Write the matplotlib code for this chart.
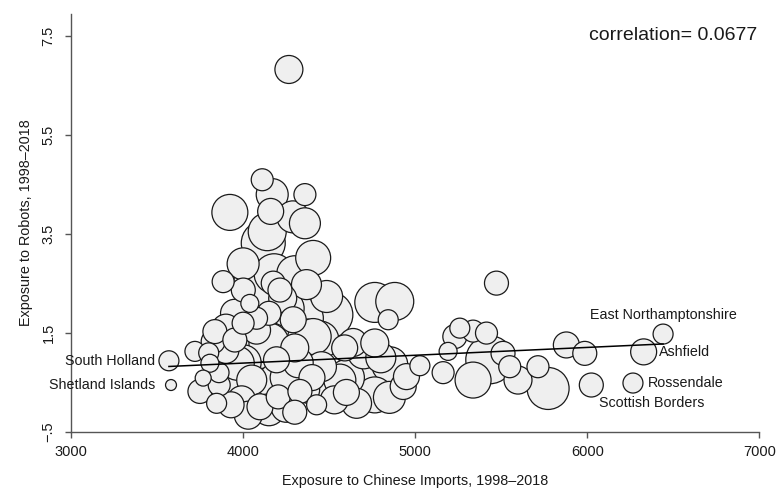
#----------------------------------------------------------------------------------------------------------------------
# Imports

import numpy as np
import matplotlib
matplotlib.use("Agg")
import matplotlib.pyplot as plt

plt.rcParams['font.family'] = ['Liberation Sans', 'DejaVu Sans']

#----------------------------------------------------------------------------------------------------------------------
# Data

# exposure to Chinese imports
imports = [4266, 4111, 4169, 4359, 3923, 4289, 4160, 4359, 4140, 4117,
           4407, 4109, 3884, 4001, 4175, 4368, 4485, 4214, 4039, 4078,
           4291, 4407, 4765, 4881, 4843, 4504, 4446, 4369, 4639, 4765,
           4678, 4852, 4455, 4562, 5027, 4930, 4765, 4659, 4949, 4369,
           4427, 5472, 5230, 5336, 5414, 5259, 5191, 5433, 5510, 5549,
           5162, 5336, 5597, 5713, 5772, 5878, 5985, 6440, 6327, 6265,
           6023, 3569, 3581, 3720, 3826, 3836, 3952, 4107, 4078, 3966,
           4194, 3768, 3861, 3749, 3991, 4098, 4030, 4204, 4330, 3807,
           3846, 4150, 4250, 4300, 3930, 4530, 4600, 4850, 4050, 4250,
           4320, 3900, 4000, 4150, 4230, 4300, 4590, 4700, 4800, 3800,
           3860, 4000, 4180, 4300, 4000, 4400, 4200, 4450, 3950, 4600,
           4150, 4350, 4250, 3950, 3900]

# exposure to robots
robots = [6.83, 4.60, 4.30, 4.30, 3.94, 3.85, 3.96, 3.72, 3.55, 3.32,
          3.02, 2.53, 2.54, 2.37, 2.51, 2.48, 2.24, 2.37, 2.10, 1.80,
          1.77, 1.43, 2.12, 2.14, 1.77, 1.87, 1.36, 1.40, 1.31, 1.30,
          0.79, 0.86, 0.82, 0.55, 0.84, 0.42, 0.25, 0.08, 0.62, 0.35,
          0.05, 2.51, 1.43, 1.54, 1.50, 1.60, 1.13, 0.96, 1.09, 0.82,
          0.70, 0.55, 0.55, 0.82, 0.38, 1.26, 1.09, 1.48, 1.12, 0.49,
          0.45, 0.94, 0.45, 1.13, 1.33, 1.53, 1.36, 1.23, 1.56, 0.89,
          0.96, 0.59, 0.45, 0.32, 0.15, 0.01, -0.16, 0.21, 0.32, 0.89,
          0.08, -0.05, 0.00, -0.10, 0.05, 0.15, 0.30, 0.20, 0.55, 0.60,
          0.90, 1.15, 1.70, 1.90, 2.20, 1.20, 1.20, 1.10, 1.00, 1.10,
          0.70, 0.90, 2.70, 2.70, 2.90, 0.60, 0.50, 0.30, 0.40, 0.60,
          1.30, 1.80, 2.00, 1.90, 1.60]

# bubble weights (area)
weight = [196, 121, 256, 121, 324, 256, 169, 240, 361, 484,
          306, 784, 121, 144, 144, 225, 256, 144, 81, 121,
          169, 324, 400, 361, 100, 529, 361, 361, 196, 196,
          484, 324, 225, 256, 100, 169, 324, 225, 169, 169,
          100, 144, 144, 121, 121, 100, 81, 576, 144, 121,
          121, 324, 196, 121, 441, 169, 144, 100, 169, 100,
          144, 100, 30, 100, 144, 144, 144, 484, 196, 289,
          169, 64, 121, 144, 196, 169, 196, 144, 144, 81,
          100, 256, 225, 144, 169, 196, 169, 256, 225, 256,
          225, 169, 121, 144, 196, 196, 169, 256, 225, 100,
          100, 324, 400, 324, 256, 169, 400, 324, 324, 324,
          400, 400, 324, 196, 196]

label_names = ["South Holland", "Shetland Islands", "East Northamptonshire",
               "Ashfield", "Rossendale", "Scottish Borders"]
label_x = [3569, 3581, 6440, 6327, 6265, 6023]
label_y = [0.94, 0.45, 1.48, 1.12, 0.49, 0.45]

# fitted line
fit_x = [3569, 6440]
fit_y = [0.825, 1.28]

correlation = 0.0677

yticks = [-0.5, 1.5, 3.5, 5.5, 7.5]
ytick_labels = ["\u2212.5", "1.5", "3.5", "5.5", "7.5"]
xticks = [3000, 4000, 5000, 6000, 7000]

#----------------------------------------------------------------------------------------------------------------------
# Plot

fig = plt.figure(figsize=(7.76, 4.94), dpi=100)
ax = fig.add_axes([0.0915, 0.1255, 0.8872, 0.846])

x = np.array(imports)
y = np.array(robots)
w = np.array(weight, dtype=float)
order = np.argsort(-w, kind="stable")

ax.scatter(x[order], y[order], s=2.07 * w[order], facecolor="#efefef",
           edgecolor="#1a1a1a", linewidth=0.9, zorder=2)
ax.plot(fit_x, fit_y, color="black", linewidth=1.1, zorder=3)

# labels
offsets = [(-10, 0, "right", "center"), (-11.5, 0, "right", "center"),
           (0, 14, "center", "center"), (11, 0, "left", "center"),
           (11, 0, "left", "center"), (5.5, -13, "left", "center")]
for name, lx, ly, (dx, dy, ha, va) in zip(label_names, label_x, label_y, offsets):
    ax.annotate(name, (lx, ly), xytext=(dx, dy), textcoords="offset points",
                ha=ha, va=va, fontsize=10.3, color="#1a1a1a", zorder=4)

ax.text(0.997, 0.948, "correlation= %.4f" % correlation, transform=ax.transAxes,
        ha="right", va="center", fontsize=14, color="#1a1a1a")

ax.set_xlim(3000, 7000)
ax.set_ylim(-0.5, 7.95)
ax.set_xticks(xticks)
ax.set_yticks(yticks)
ax.set_yticklabels(ytick_labels, rotation=90, va="center")

for s in ["top", "right"]:
    ax.spines[s].set_visible(False)
for s in ["left", "bottom"]:
    ax.spines[s].set_color("#555555")
    ax.spines[s].set_linewidth(1.0)

ax.tick_params(direction="out", length=4, width=1, color="#555555",
               labelsize=10.5, labelcolor="#1a1a1a", pad=5)
ax.tick_params(axis="y", pad=7)

ax.set_xlabel("Exposure to Chinese Imports, 1998\u20132018", fontsize=10.4, labelpad=11, color="#1a1a1a")
ax.set_ylabel("Exposure to Robots, 1998\u20132018", fontsize=10.4, labelpad=6, color="#1a1a1a")

plt.savefig("out.png", dpi=100)
